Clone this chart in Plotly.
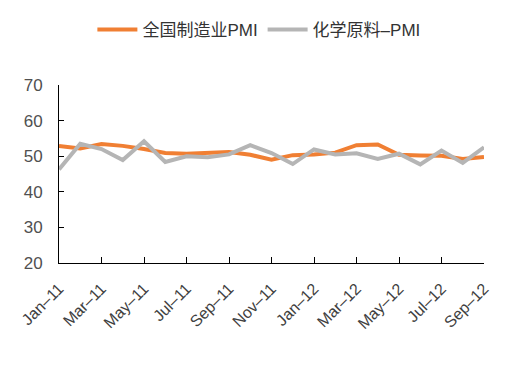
import plotly.graph_objects as go

months = ["Jan–11","Feb–11","Mar–11","Apr–11","May–11","Jun–11","Jul–11","Aug–11","Sep–11","Oct–11","Nov–11","Dec–11",
          "Jan–12","Feb–12","Mar–12","Apr–12","May–12","Jun–12","Jul–12","Aug–12","Sep–12"]
pmi_total = [52.9,52.2,53.4,52.9,52.0,50.9,50.7,50.9,51.2,50.4,49.0,50.3,50.5,51.0,53.1,53.3,50.4,50.2,50.1,49.2,49.8]
pmi_chem = [46.3,53.5,52.0,48.9,54.2,48.4,50.0,49.7,50.5,53.1,50.9,47.8,51.9,50.5,50.8,49.2,50.7,47.7,51.6,48.1,52.5]
tick_labels = months[::2]

fig = go.Figure()
fig.add_trace(go.Scatter(x=months, y=pmi_total, mode="lines", name="全国制造业PMI",
                         line=dict(color="#F07F33", width=4)))
fig.add_trace(go.Scatter(x=months, y=pmi_chem, mode="lines", name="化学原料–PMI",
                         line=dict(color="#B5B5B5", width=4)))

fig.update_layout(
    width=512, height=366,
    margin=dict(l=51, r=36, t=77, b=111, autoexpand=False),
    paper_bgcolor="white", plot_bgcolor="white",
    font=dict(family="Liberation Sans, Noto Sans CJK SC, sans-serif", size=15, color="#404040"),
    legend=dict(orientation="h", xref="container", x=0.49, xanchor="center", yref="container", y=0.94, yanchor="middle",
                font=dict(size=17, color="#333333"), itemwidth=40),
    xaxis=dict(type="category", range=[0, 20], tickmode="array", tickvals=tick_labels, ticktext=tick_labels,
               tickangle=-45, showgrid=False, showline=True, linecolor="black", linewidth=1, automargin=False,
               ticks="inside", ticklen=6, tickcolor="black", ticklabelstandoff=9,
               tickfont=dict(size=16, color="#404040")),
    yaxis=dict(range=[20, 70], tickvals=[20,30,40,50,60,70], showgrid=False, showline=True, automargin=False,
               linecolor="black", linewidth=1, ticks="inside", ticklen=5, tickcolor="black", ticklabelstandoff=12,
               tickfont=dict(size=17, color="#505050"), zeroline=False),
)
fig.write_html("out.html")
